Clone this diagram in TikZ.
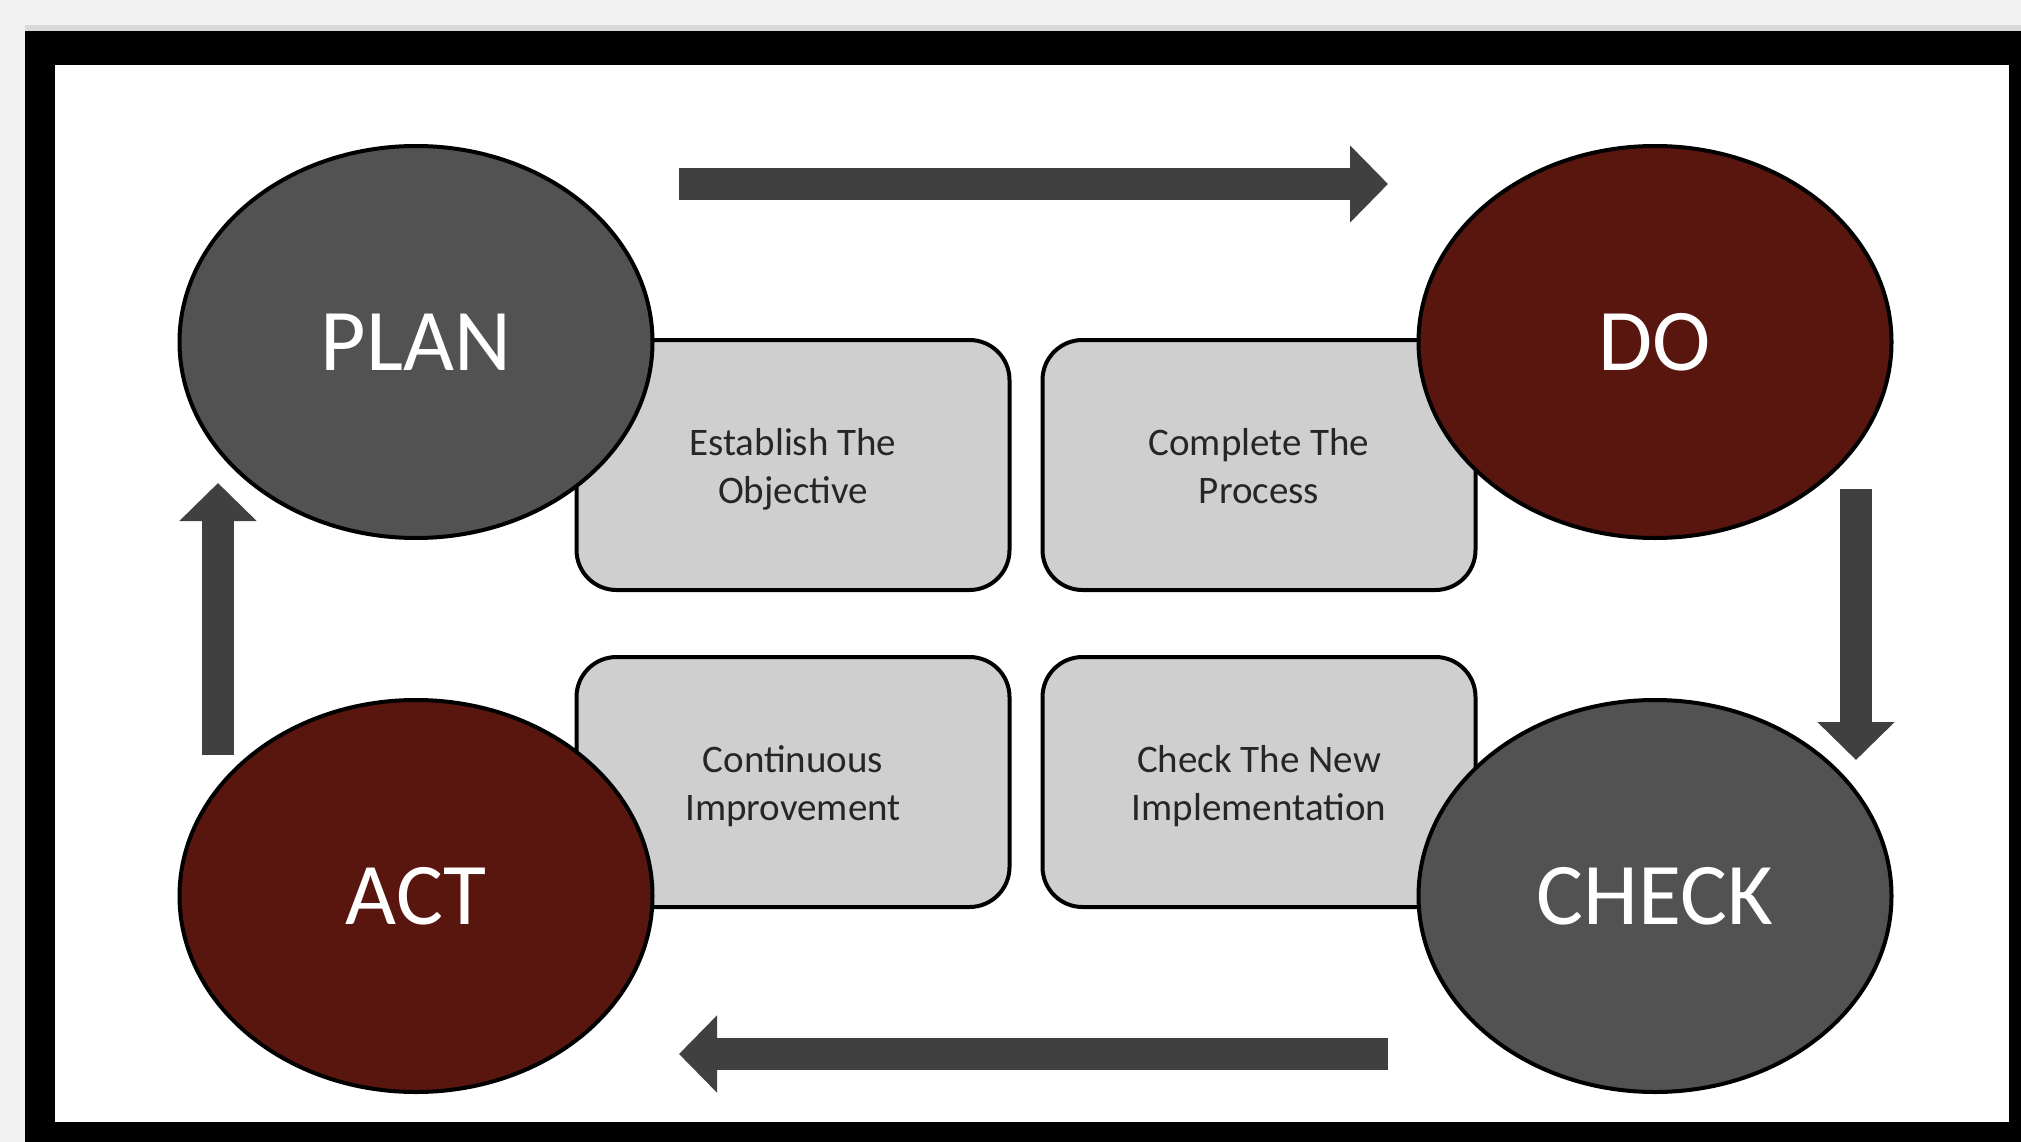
\documentclass[tikz,border=0pt]{standalone}
\usepackage{fontspec}
\setmainfont{Carlito}
\usetikzlibrary{arrows.meta,shapes.geometric}
\definecolor{bgcol}{HTML}{F2F2F2}
\definecolor{planfill}{HTML}{525252}
\definecolor{redfill}{HTML}{58160F}
\definecolor{boxfill}{HTML}{D0CFD0}
\definecolor{arrowcol}{HTML}{404040}
\definecolor{boxtext}{HTML}{262626}
\newcommand\lnstrut{\rule[-9.4pt]{0pt}{48pt}}
\begin{document}
\begin{tikzpicture}[x=1pt,y=-1pt,
  phase/.style={ellipse, draw=black, line width=4pt, minimum width=473pt, minimum height=392pt,
     inner sep=0pt, text=white, font=\fontsize{88}{100}\selectfont},
  greyphase/.style={phase, fill=planfill},
  redphase/.style={phase, fill=redfill},
  stepbox/.style={rectangle, rounded corners=40pt, draw=black, line width=4pt, fill=boxfill,
     minimum width=433pt, minimum height=250pt, inner sep=0pt, align=center, text=boxtext,
     font=\fontsize{39}{48}\selectfont},
  bigarrow/.style={draw=arrowcol, line width=32pt, -{Triangle[length=38pt,width=75pt]}, arrowcol}
]
\useasboundingbox (0,0) rectangle (2021,1142);
\fill[bgcol] (0,0) rectangle (2021,1142);
\fill[black!15] (25,25) rectangle (2021,31);
\fill[black] (25,31) rectangle (2021,1142);
\fill[white] (55,65) rectangle (2009,1122);

% step boxes (below the ellipses)
\node[stepbox] (b1) at (793,465) {\lnstrut Establish The\\\lnstrut Objective};
\node[stepbox] (b2) at (1259,465) {\lnstrut Complete The\\\lnstrut Process};
\node[stepbox] (b3) at (793,782) {\lnstrut Continuous\\\lnstrut Improvement};
\node[stepbox] (b4) at (1259,782) {\lnstrut Check The New\\\lnstrut Implementation};

% phases
\node[greyphase] (plan) at (416,342) {PLAN};
\node[redphase] (do) at (1655,342) {DO};
\node[greyphase] (check) at (1655,896) {CHECK};
\node[redphase] (act) at (416,896) {ACT};

% arrows
\coordinate (a1s) at (679,184);
\coordinate (a1e) at (1388,184);
\coordinate (a2s) at (1856,489);
\coordinate (a2e) at (1856,760);
\coordinate (a3s) at (1388,1054);
\coordinate (a3e) at (679,1054);
\coordinate (a4s) at (218,755);
\coordinate (a4e) at (218,483);
\draw[bigarrow] (a1s) -- (a1e);
\draw[bigarrow] (a2s) -- (a2e);
\draw[bigarrow] (a3s) -- (a3e);
\draw[bigarrow] (a4s) -- (a4e);
\end{tikzpicture}
\end{document}
